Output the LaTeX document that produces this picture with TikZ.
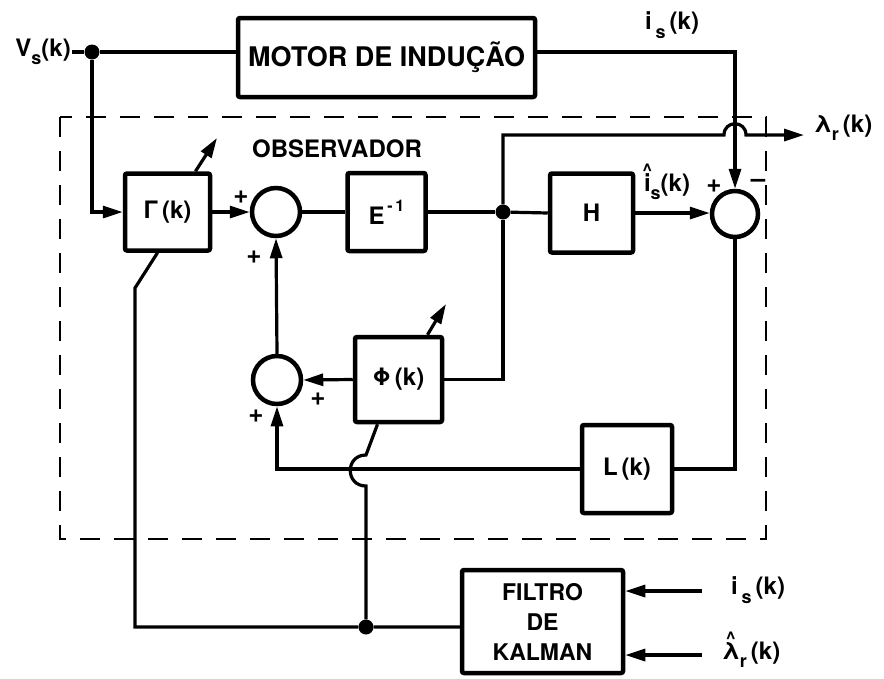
\documentclass[tikz,border=0pt]{standalone}
\usepackage{fontspec}
\setmainfont{TeX Gyre Heros}
\usetikzlibrary{arrows.meta}
\newcommand{\sbs}[1]{\raisebox{-0.35em}{\fontsize{18}{18}\selectfont #1}}
\newcommand{\hatc}[1]{\setbox0\hbox{#1}\rlap{\makebox[\wd0]{\raisebox{0.62em}{\fontsize{18}{18}\selectfont\textasciicircum}}}\box0}
\begin{document}
\begin{tikzpicture}[x=1pt,y=-1pt,
  conn/.style={line width=3.2pt},
  arr/.style={conn,-{Triangle[length=20pt,width=12pt]}},
  blk/.style={draw,line width=4.5pt,rounded corners=2pt,font=\fontsize{24}{28}\selectfont\bfseries,align=center,inner sep=0pt},
  sumc/.style={draw,circle,line width=4.5pt,minimum size=48pt,inner sep=0pt},
  dotn/.style={circle,fill,minimum size=15pt,inner sep=0pt},
  lbl/.style={font=\fontsize{24}{28}\selectfont\bfseries,inner sep=1pt},
  sgn/.style={font=\fontsize{26}{26}\selectfont\bfseries,inner sep=0pt}]
\useasboundingbox (0,0) rectangle (884,678);
% nodes
\node[lbl,anchor=east] (vs) at (72,52) {V\sbs{s}(k)};
\node[dotn] (d1) at (92,52) {};
\node[blk,minimum width=297pt,minimum height=79pt,font=\fontsize{27}{30}\selectfont\bfseries] (motor) at (386.5,57.5) {MOTOR DE INDUÇÃO};
\node[lbl] (is1) at (672,25) {i\,\sbs{s}\,(k)};
\node[lbl] (obs) at (337,149) {OBSERVADOR};
\node[blk,minimum width=85pt,minimum height=77pt] (gam) at (167.5,212) {Γ\,(k)};
\node[sumc] (s1) at (276,212) {};
\node[blk,minimum width=78pt,minimum height=78pt] (einv) at (386.5,212) {E\raisebox{0.55em}{\fontsize{16}{16}\selectfont\,-\,1}};
\node[dotn] (d2) at (503,212) {};
\node[blk,minimum width=83pt,minimum height=79pt] (H) at (591.5,213) {H};
\node[sumc,minimum size=46pt] (s2) at (735,214) {};
\node[lbl] (ish) at (667,182) {\hatc{i}\sbs{s}(k)};
\node[sgn] (p1) at (714,186) {+};
\node[sgn] (m1) at (758,183) {–};
\node[lbl] (lam) at (843,128) {λ\sbs{r}\,(k)};
\node[blk,minimum width=87pt,minimum height=85pt] (phi) at (398.5,379.5) {Φ\,(k)};
\node[sgn] (p2) at (241,197) {+};
\node[sgn] (p3) at (254,257) {+};
\node[sumc] (s3) at (277,380) {};
\node[sgn] (p4) at (318,399) {+};
\node[sgn] (p5) at (256,416) {+};
\node[blk,minimum width=90pt,minimum height=88pt] (L) at (627,469) {L\,(k)};
\node[blk,minimum width=161pt,minimum height=103pt,font=\fontsize{23}{30}\selectfont\bfseries] (kal) at (542.5,621.5) {FILTRO\\DE\\KALMAN};
\node[dotn] (d3) at (366,627) {};
\node[lbl] (is2) at (758,590) {i\,\sbs{s}\,(k)};
\node[lbl] (lamh) at (751,650) {\hatc{λ}\sbs{r}\,(k)};
% coordinates
\coordinate (ga) at (217,138);
\coordinate (pa) at (446,304);
\coordinate (g1) at (135,288);
\coordinate (h1a) at (724,135);
\coordinate (h1b) at (746,135);
\coordinate (lt) at (804,135);
\coordinate (h2a) at (366,486);
\coordinate (h2b) at (366,455);
\coordinate (ka1) at (702,591);
\coordinate (ka2) at (702,655);
% observer boundary
\draw[line width=2.5pt,dash pattern=on 20pt off 14pt] (60,117) rectangle (766,539);
% connectors
\draw[conn] (vs.east) -- (d1);
\draw[conn] (d1) -- (d1 -| motor.west);
\draw[arr] (d1 -| motor.east) -| (s2.north);
\draw[arr] (d1) |- (gam.west);
\draw[arr] ([xshift=28pt]gam.north) -- (ga);
\draw[arr] (gam.east) -- (s1.west);
\draw[conn] (s1.east) -- (einv.west);
\draw[conn] (einv.east) -- (d2);
\draw[conn] (d2) -- (H.west);
\draw[arr] (H.east) -- (H.east -| s2.west);
\draw[arr] (d2) |- (h1a) .. controls (724,120) and (746,120) .. (h1b) -- (lt);
\draw[conn] (phi.east) -| (d2);
\draw[arr] (phi.west) -- (s3.east);
\draw[arr] (s3.north) -- (s1.south);
\draw[arr] ([xshift=29pt]phi.north) -- (pa);
\draw[conn] (s2.south) |- (L.east);
\draw[arr] (L.west) -| (s3.south);
\draw[conn] ([xshift=-21pt]phi.south) -- (h2b) .. controls (345,455) and (345,486) .. (h2a) -- (d3);
\draw[conn] ([xshift=-10pt]gam.south) -- (g1) |- (d3) -- (d3 -| kal.west);
\draw[arr] (ka1) -- (ka1 -| kal.east);
\draw[arr] (ka2) -- (ka2 -| kal.east);
\end{tikzpicture}
\end{document}
